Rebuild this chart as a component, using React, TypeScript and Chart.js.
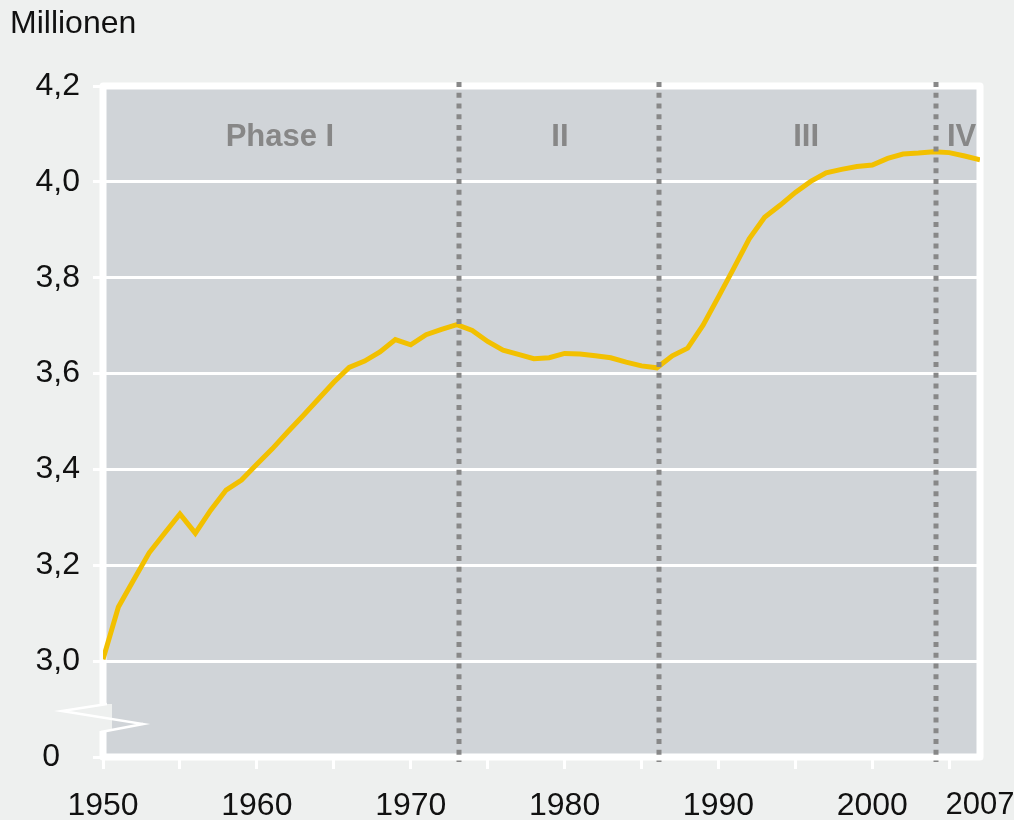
import React, { useEffect, useRef } from 'react';
import { Chart, registerables } from 'chart.js';

Chart.register(...registerables);

const years: number[] = [
  1950, 1951, 1952, 1953, 1954, 1955, 1956, 1957, 1958, 1959,
  1960, 1961, 1962, 1963, 1964, 1965, 1966, 1967, 1968, 1969,
  1970, 1971, 1972, 1973, 1974, 1975, 1976, 1977, 1978, 1979,
  1980, 1981, 1982, 1983, 1984, 1985, 1986, 1987, 1988, 1989,
  1990, 1991, 1992, 1993, 1994, 1995, 1996, 1997, 1998, 1999,
  2000, 2001, 2002, 2003, 2004, 2005, 2006, 2007,
];

const millions: number[] = [
  3.004, 3.113, 3.170, 3.226, 3.267, 3.307, 3.267, 3.315, 3.357, 3.378,
  3.411, 3.443, 3.478, 3.512, 3.547, 3.582, 3.613, 3.626, 3.645, 3.671,
  3.660, 3.681, 3.692, 3.702, 3.690, 3.667, 3.649, 3.640, 3.631, 3.633,
  3.642, 3.641, 3.637, 3.633, 3.624, 3.616, 3.612, 3.637, 3.653, 3.701,
  3.760, 3.820, 3.881, 3.926, 3.951, 3.978, 4.001, 4.019, 4.026, 4.032,
  4.035, 4.049, 4.058, 4.060, 4.063, 4.061, 4.054, 4.046,
];

const yTickValues: number[] = [2.8, 3.0, 3.2, 3.4, 3.6, 3.8, 4.0, 4.2];
const xTickYears: number[] = [1950, 1955, 1960, 1965, 1970, 1975, 1980, 1985, 1990, 1995, 2000, 2005, 2007];
const xLabelYears: number[] = [1950, 1960, 1970, 1980, 1990, 2000, 2007];
const phaseBoundaries: number[] = [1973, 1986, 2004];
const phaseLabels: string[] = ['Phase I', 'II', 'III', 'IV'];
const phaseLabelYears: number[] = [1961.5, 1979.7, 1995.7, 2005.8];
const phaseLabelValue = 4.092;
const yAxisTitle = 'Millionen';
const breakLabel = '0';

const FONT = '"Liberation Sans", Arial, Helvetica, sans-serif';
const PAGE_BG = '#eef0ef';
const PLOT_BG = '#d0d4d8';
const LINE_COLOR = '#f2c000';

const decorPlugin = {
  id: 'decor',
  beforeDraw(chart: any) {
    const { ctx, chartArea } = chart;
    ctx.save();
    ctx.fillStyle = PAGE_BG;
    ctx.fillRect(0, 0, chart.width, chart.height);
    ctx.fillStyle = PLOT_BG;
    ctx.fillRect(chartArea.left, chartArea.top, chartArea.right - chartArea.left, chartArea.bottom - chartArea.top);
    ctx.restore();
  },
  beforeDatasetsDraw(chart: any) {
    const { ctx, chartArea } = chart;
    const { left, right, top, bottom } = chartArea;
    ctx.save();
    ctx.strokeStyle = '#ffffff';
    ctx.lineWidth = 7;
    ctx.lineJoin = 'round';
    ctx.strokeRect(left, top, right - left, bottom - top);
    ctx.fillStyle = PAGE_BG;
    ctx.fillRect(left - 4, bottom - 53, 13, 27);
    ctx.strokeStyle = '#ffffff';
    ctx.lineWidth = 2.5;
    ctx.lineJoin = 'miter';
    ctx.beginPath();
    ctx.moveTo(left + 4, bottom - 53);
    ctx.lineTo(left - 41, bottom - 46);
    ctx.lineTo(left + 40, bottom - 33);
    ctx.lineTo(left - 2, bottom - 25);
    ctx.stroke();
    ctx.restore();
  },
  afterDatasetsDraw(chart: any) {
    const { ctx, chartArea, scales } = chart;
    const xs = scales.x;
    const ys = scales.y;
    ctx.save();
    ctx.strokeStyle = '#888888';
    ctx.lineWidth = 5;
    ctx.setLineDash([5, 5.77]);
    phaseBoundaries.forEach((yr) => {
      const x = Math.round(xs.getPixelForValue(yr)) + 2;
      ctx.beginPath();
      ctx.moveTo(x, chartArea.top - 4);
      ctx.lineTo(x, chartArea.bottom + 5);
      ctx.stroke();
    });
    ctx.setLineDash([]);
    ctx.fillStyle = '#878787';
    ctx.font = `bold 31px ${FONT}`;
    ctx.textAlign = 'center';
    ctx.textBaseline = 'middle';
    phaseLabels.forEach((lbl, i) => {
      ctx.fillText(lbl, xs.getPixelForValue(phaseLabelYears[i]), ys.getPixelForValue(phaseLabelValue));
    });
    ctx.fillStyle = '#111111';
    ctx.font = `32px ${FONT}`;
    ctx.textAlign = 'left';
    ctx.textBaseline = 'alphabetic';
    ctx.fillText(yAxisTitle, 10, 33);
    ctx.font = `32px ${FONT}`;
    ctx.textAlign = 'right';
    ctx.textBaseline = 'middle';
    ctx.fillText(breakLabel, 60, ys.getPixelForValue(yTickValues[0]));
    ctx.restore();
  },
};

export default function App() {
  const canvasRef = useRef<HTMLCanvasElement | null>(null);

  useEffect(() => {
    document.body.style.margin = '0';
    document.body.style.background = PAGE_BG;
    const canvas = canvasRef.current;
    if (!canvas) return;
    const data = years.map((x, i) => ({ x, y: millions[i] }));
    const chart = new Chart(canvas, {
      type: 'line',
      data: {
        datasets: [
          {
            data,
            borderColor: LINE_COLOR,
            borderWidth: 5,
            pointRadius: 0,
            fill: false,
            tension: 0,
          },
        ],
      },
      options: {
        animation: false,
        responsive: false,
        devicePixelRatio: 1,
        layout: { padding: { top: 86, right: 34, bottom: 0, left: 0 } },
        plugins: { legend: { display: false }, tooltip: { enabled: false } },
        scales: {
          x: {
            type: 'linear',
            min: 1950,
            max: 2007,
            afterBuildTicks: (scale: any) => {
              scale.ticks = xTickYears.map((v) => ({ value: v }));
            },
            afterFit: (scale: any) => {
              scale.height = 63;
              scale.paddingLeft = 0;
              scale.paddingRight = 0;
            },
            border: { display: false },
            grid: {
              drawOnChartArea: false,
              drawTicks: true,
              tickLength: 12,
              tickWidth: 3,
              tickColor: (ctx: any) => (ctx.tick && ctx.tick.value === 2007 ? 'rgba(0,0,0,0)' : '#ffffff'),
            },
            ticks: {
              autoSkip: false,
              maxRotation: 0,
              minRotation: 0,
              padding: 18,
              color: '#111111',
              font: (ctx: any) => ({
                family: FONT,
                size: ctx.tick && ctx.tick.value === 2007 ? 31 : 32,
              }),
              callback: (v: any) => (xLabelYears.includes(Number(v)) ? String(v) : ''),
            },
          },
          y: {
            type: 'linear',
            min: 2.8,
            max: 4.2,
            afterBuildTicks: (scale: any) => {
              scale.ticks = yTickValues.map((v) => ({ value: v }));
            },
            afterFit: (scale: any) => {
              scale.width = 103;
              scale.paddingTop = 0;
              scale.paddingBottom = 0;
            },
            border: { display: false },
            grid: {
              color: '#ffffff',
              lineWidth: 3,
              drawTicks: true,
              tickLength: 10,
              tickWidth: 3,
              tickColor: '#ffffff',
            },
            ticks: {
              padding: 13,
              color: '#111111',
              font: { family: FONT, size: 32 },
              callback: (v: any) => {
                const n = Number(v);
                if (Math.abs(n - yTickValues[0]) < 1e-6) return '';
                return n.toFixed(1).replace('.', ',');
              },
            },
          },
        },
      },
      plugins: [decorPlugin],
    } as any);
    return () => chart.destroy();
  }, []);

  return (
    <div style={{ position: 'absolute', left: 0, top: 0, width: 1014, height: 820, background: PAGE_BG }}>
      <canvas ref={canvasRef} width={1014} height={820} style={{ display: 'block', width: 1014, height: 820 }} />
    </div>
  );
}
